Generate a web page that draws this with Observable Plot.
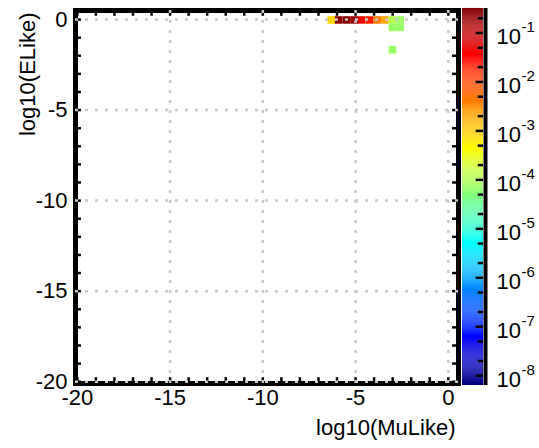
<!DOCTYPE html>
<html><head><meta charset="utf-8">
<script src="https://cdn.jsdelivr.net/npm/d3@7"></script>
<script src="https://cdn.jsdelivr.net/npm/@observablehq/plot@0.6"></script>
<style>
body{margin:0;background:#fff;}
#wrap{position:relative;width:539px;height:448px;overflow:hidden;background:#fff;}
#wrap svg{position:absolute;left:0;top:0;}
</style></head><body><div id="wrap"></div>
<script>
// Heat-map cells: bin centres (log10 MuLike, log10 ELike) and probability
const cellX = [-6.29, -5.88, -5.46, -5.05, -4.64, -4.22, -3.81, -3.40, -2.98, -2.57, -2.98, -2.57, -2.98];
const cellY = [-0.05, -0.05, -0.05, -0.05, -0.05, -0.05, -0.05, -0.05, -0.05, -0.05, -0.46, -0.46, -1.70];
const cellV = [8e-4, 0.25, 0.30, 0.20, 0.045, 0.022, 4e-3, 2e-3, 1.1e-4, 7e-5, 7e-5, 7e-5, 7e-5];
const binW = 0.414;
const xTicks = [-20, -15, -10, -5, 0];
const yTicks = [-20, -15, -10, -5, 0];
const minorTicks = d3.range(-20, 1);
const cbarDecades = [1e-1, 1e-2, 1e-3, 1e-4, 1e-5, 1e-6, 1e-7, 1e-8];
const cbarDomain = [10 ** -8.2, 10 ** -0.5];

const cells = cellX.map((x, i) => ({x, y: cellY[i], v: cellV[i]}));

function jet(t) {
  const c = v => Math.max(0, Math.min(1, v));
  const r = c(Math.min(4 * t - 1.5, -4 * t + 4.5));
  const g = c(Math.min(4 * t - 0.5, -4 * t + 3.5));
  const b = c(Math.min(4 * t + 0.5, -4 * t + 2.5));
  return `rgb(${Math.round(r * 255)},${Math.round(g * 255)},${Math.round(b * 255)})`;
}
const colorOpts = {type: "log", domain: cbarDomain, interpolate: jet, clamp: true};
const font = "'Liberation Sans', Arial, Helvetica, sans-serif";

const X0 = -20.1, X1 = 0.55, Y0 = -20.1, Y1 = 0.5;
const fmt = d => String(d);

const main = Plot.plot({
  width: 539, height: 448,
  marginLeft: 75, marginRight: 81, marginTop: 10, marginBottom: 65,
  style: {fontFamily: font, background: "white", color: "black"},
  x: {domain: [X0, X1]},
  y: {domain: [Y0, Y1]},
  color: colorOpts,
  marks: [
    Plot.rect(cells, {x1: d => d.x - binW / 2, x2: d => d.x + binW / 2, y1: d => d.y - binW / 2, y2: d => d.y + binW / 2, fill: "v"}),
    Plot.frame({stroke: "black", strokeWidth: 5}),
    // inward ticks on all four sides
    Plot.ruleX(minorTicks, {x: d => d, y1: Y0, y2: Y0 + 0.32, stroke: "black", strokeWidth: 2.5}),
    Plot.ruleX(minorTicks, {x: d => d, y1: Y1, y2: Y1 - 0.32, stroke: "black", strokeWidth: 2.5}),
    Plot.ruleY(minorTicks, {y: d => d, x1: X0, x2: X0 + 0.32, stroke: "black", strokeWidth: 2.5}),
    Plot.ruleY(minorTicks, {y: d => d, x1: X1, x2: X1 - 0.32, stroke: "black", strokeWidth: 2.5}),
    // dotted grid
    Plot.ruleX([-15, -10, -5, 0], {x: d => d, stroke: "#c8c8c8", strokeWidth: 2.5, strokeDasharray: "3,7"}),
    Plot.ruleY(yTicks, {y: d => d, stroke: "#c8c8c8", strokeWidth: 2.5, strokeDasharray: "3,7"}),
    Plot.axisX({ticks: xTicks, tickSize: 0, tickPadding: 6, tickFormat: fmt, fontSize: 22, label: null}),
    Plot.axisY({ticks: yTicks, tickSize: 0, tickPadding: 8, tickFormat: fmt, fontSize: 22, label: null}),
    Plot.text(["log10(MuLike)"], {frameAnchor: "bottom-right", dx: -3, dy: 51, textAnchor: "end", fontSize: 22, fill: "black"}),
    Plot.text(["log10(ELike)"], {frameAnchor: "top-left", dx: -56, dy: 2, rotate: -90, textAnchor: "end", fontSize: 22, fill: "black"})
  ]
});

const ramp = d3.range(-8.2, -0.5, 0.02);
const minor = [];
for (let k = -9; k <= 0; k++) for (const m of [2, 5]) {
  const v = m * 10 ** k;
  if (v > cbarDomain[0] && v < cbarDomain[1]) minor.push(v);
}

const cbar = Plot.plot({
  width: 539, height: 448,
  marginLeft: 462, marginRight: 56, marginTop: 8, marginBottom: 63,
  style: {fontFamily: font, background: "transparent", color: "black", overflow: "visible"},
  x: {domain: [0, 1], axis: null},
  y: {type: "log", domain: cbarDomain, axis: null},
  color: colorOpts,
  marks: [
    Plot.rect(ramp, {x1: () => 0, x2: () => 1, y1: e => 10 ** e, y2: e => 10 ** (e + 0.021), fill: e => 10 ** (e + 0.01)}),
    Plot.ruleY(minor, {y: d => d, x1: 0.75, x2: 1, stroke: "black", strokeWidth: 2.5}),
    Plot.ruleY(cbarDecades, {y: d => d, x1: 0.65, x2: 1, stroke: "black", strokeWidth: 2.5}),
    Plot.ruleX([1], {x: d => d, dx: 2, stroke: "black", strokeWidth: 4}),
    Plot.text(cbarDecades, {x: () => 1, y: d => d, text: () => "10", dx: 13, dy: 4, textAnchor: "start", fontSize: 22, fill: "black"}),
    Plot.text(cbarDecades, {x: () => 1, y: d => d, text: d => String(Math.round(Math.log10(d))), dx: 38, dy: -6, textAnchor: "start", fontSize: 15, fill: "black"})
  ]
});

const wrap = document.getElementById("wrap");
wrap.appendChild(main);
wrap.appendChild(cbar);
</script></body></html>
